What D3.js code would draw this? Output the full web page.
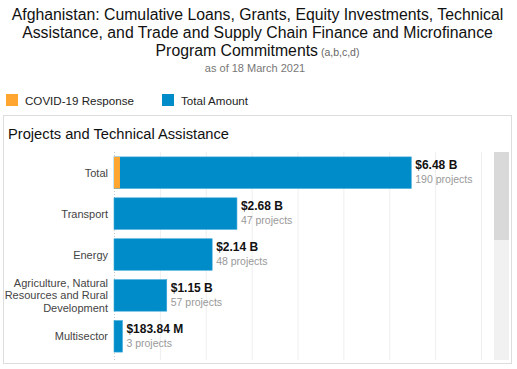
<!DOCTYPE html>
<html><head><meta charset="utf-8">
<script src="https://cdn.jsdelivr.net/npm/d3@7"></script>
<style>
body{margin:0;background:#fff;font-family:"Liberation Sans",Arial,sans-serif;}
svg{display:block;}
</style></head><body>
<svg id="chart" width="517" height="369"></svg>
<script>
const titleLines = ["Afghanistan: Cumulative Loans, Grants, Equity Investments, Technical",
  "Assistance, and Trade and Supply Chain Finance and Microfinance",
  "Program Commitments"];
const titleNote = "(a,b,c,d)";
const subtitle = "as of 18 March 2021";
const panelTitle = "Projects and Technical Assistance";
const legendLabels = ["COVID-19 Response", "Total Amount"];
const categories = ["Total", "Transport", "Energy", "Agriculture, Natural|Resources and Rural|Development", "Multisector"];
const totalValues = [6480, 2680, 2140, 1150, 183.84];   // $ millions
const covidValues = [130, 0, 0, 0, 0];                   // $ millions
const valueLabels = ["$6.48 B", "$2.68 B", "$2.14 B", "$1.15 B", "$183.84 M"];
const projectCounts = [190, 47, 48, 57, 3];
const gridTicks = [0, 1000, 2000, 3000, 4000, 5000, 6000, 7000, 8000];

const blue = "#008cc9", orange = "#ffa630";
const svg = d3.select("#chart");

// title
const t = svg.append("g").attr("font-size", 15.8).attr("fill", "#111").attr("text-anchor", "middle");
titleLines.forEach((l, i) => {
  const tx = t.append("text").attr("x", 257.5).attr("y", 20 + i * 18).text(l);
  if (i === titleLines.length - 1) {
    tx.append("tspan").attr("font-size", 10.5).attr("fill", "#666").text(" " + titleNote);
  }
});
svg.append("text").attr("x", 255).attr("y", 72).attr("text-anchor", "middle")
  .attr("font-size", 11).attr("fill", "#777").text(subtitle);

// legend
const legX = [6, 162];
[orange, blue].forEach((c, i) => {
  svg.append("rect").attr("x", legX[i]).attr("y", 94).attr("width", 12).attr("height", 12).attr("fill", c);
  svg.append("text").attr("x", legX[i] + 19).attr("y", 104.5).attr("font-size", 11.6).attr("fill", "#222").text(legendLabels[i]);
});

// panel
svg.append("rect").attr("x", 3.5).attr("y", 115.5).attr("width", 508).attr("height", 248)
  .attr("fill", "none").attr("stroke", "#ddd");
svg.append("text").attr("x", 8).attr("y", 138.5).attr("font-size", 14.7).attr("fill", "#111").text(panelTitle);

// scrollbar
svg.append("rect").attr("x", 494).attr("y", 152).attr("width", 15).attr("height", 208).attr("fill", "#f1f1f1");
svg.append("rect").attr("x", 494).attr("y", 152).attr("width", 15).attr("height", 88).attr("fill", "#d9d9d9");

const x = d3.scaleLinear().domain([0, 8000]).range([114, 481]);
const y = d3.scaleBand().domain(categories).range([152, 357]).paddingInner(0.23).paddingOuter(0.12);

// grid
svg.append("g").selectAll("line").data(gridTicks).join("line")
  .attr("x1", d => x(d) + 0.5).attr("x2", d => x(d) + 0.5)
  .attr("y1", 152).attr("y2", 360)
  .attr("stroke", d => d === 0 ? "#ccc" : "#eee")
  .attr("stroke-dasharray", d => d === 0 ? "1,2" : null);

const rows = svg.append("g").selectAll("g").data(categories).join("g");
rows.append("rect")
  .attr("x", x(0)).attr("y", d => y(d))
  .attr("width", (d, i) => x(totalValues[i]) - x(0)).attr("height", y.bandwidth())
  .attr("fill", blue).attr("stroke", "#3aa6d8").attr("stroke-width", 0.6);
rows.append("rect")
  .attr("x", x(0)).attr("y", d => y(d))
  .attr("width", (d, i) => x(covidValues[i]) - x(0)).attr("height", y.bandwidth())
  .attr("fill", orange);

// category labels
rows.each(function(d, i) {
  const parts = d.split("|");
  const g = d3.select(this);
  const cy = y(d) + y.bandwidth() / 2;
  const lh = 12.3;
  parts.forEach((p, j) => {
    g.append("text").attr("x", 108).attr("y", cy + (j - (parts.length - 1) / 2) * lh + 4)
      .attr("text-anchor", "end").attr("font-size", 11).attr("fill", "#444").text(p);
  });
  const lx = x(totalValues[i]) + 4;
  g.append("text").attr("x", lx).attr("y", y(d) + 12.5).attr("font-size", 12).attr("font-weight", "bold")
    .attr("fill", "#111").text(valueLabels[i]);
  g.append("text").attr("x", lx).attr("y", y(d) + 26).attr("font-size", 10.5).attr("fill", "#999")
    .text(projectCounts[i] + " projects");
});
</script>
</body></html>
